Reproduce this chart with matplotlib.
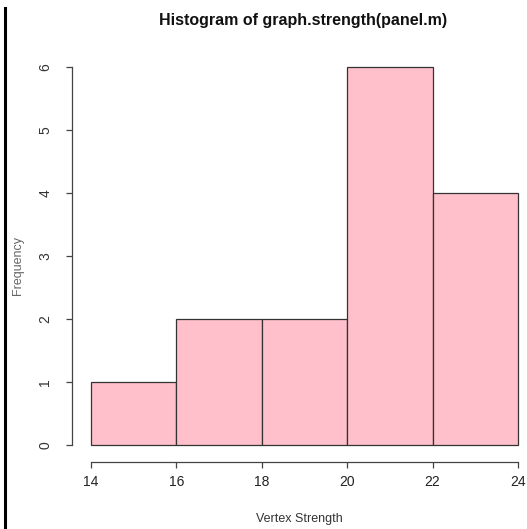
import matplotlib
matplotlib.use("Agg")
import matplotlib.pyplot as plt
import numpy as np

plt.rcParams["font.family"] = ["Liberation Sans", "DejaVu Sans"]

bin_edges = [14, 16, 18, 20, 22, 24]
counts = [1, 2, 2, 6, 4]
y_ticks = [0, 1, 2, 3, 4, 5, 6]

fig = plt.figure(figsize=(5.27, 5.29), dpi=100)
ax = fig.add_axes([72 / 527, 67 / 529, 455 / 527, 410 / 529])

edges = np.array(bin_edges)
ax.bar(edges[:-1], counts, width=np.diff(edges), align="edge",
       color="#FFC0CB", edgecolor="#333333", linewidth=0.9)

ax.set_xlim(14 - 19 / 42.7, 24 + 9 / 42.7)
ax.set_ylim(-17 / 63, 6 + 15 / 63)

for s in ["top", "right"]:
    ax.spines[s].set_visible(False)
ax.spines["left"].set_bounds(0, 6)
ax.spines["bottom"].set_bounds(14, 24)
for s in ["left", "bottom"]:
    ax.spines[s].set_color("#444444")
    ax.spines[s].set_linewidth(0.9)

ax.set_xticks(bin_edges)
ax.set_yticks(y_ticks)
ax.tick_params(axis="both", direction="out", length=4.3, width=0.9,
               color="#444444", labelcolor="#222222", labelsize=10)
ax.tick_params(axis="x", pad=5)
ax.tick_params(axis="y", pad=10, labelcolor="#333333")
for lab in ax.get_yticklabels():
    lab.set_rotation(90)
    lab.set_va("center")

ax.set_xlabel("Vertex Strength", fontsize=9, color="#333333", labelpad=17)
ax.set_ylabel("Frequency", fontsize=9, color="#666666", labelpad=10, y=0.48)

fig.text(0.575, 1 - 20 / 529, "Histogram of graph.strength(panel.m)",
         ha="center", va="center", fontsize=11.5, fontweight="bold", color="#111111")

fig.add_artist(plt.Line2D([4.5 / 527, 4.5 / 527], [0, 1 - 8 / 529],
                          transform=fig.transFigure, color="black", linewidth=2.2))

fig.savefig("out.png", dpi=100)
